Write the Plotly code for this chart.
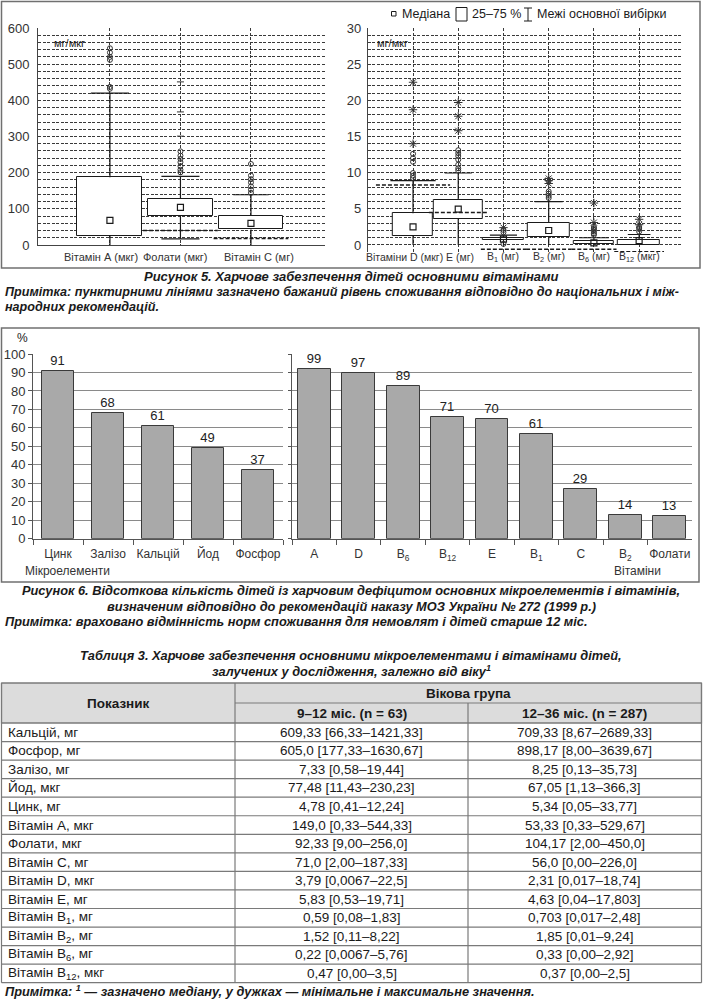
import plotly.graph_objects as go

W, H = 703, 1000


def PX(x):
    return x / W


def PY(y):
    return 1 - y / H


FONT = "Liberation Sans Narrow, Arial Narrow, Liberation Sans, Arial, sans-serif"
INK = "#1a1a1a"
GRIDDOT = "#3a3a3a"
BARGRID = "#8a8a8a"
FRAME = "#707070"

# ---------------- Figure 5 : box plots ----------------
vitL_labels = ["Вітамін А (мкг)", "Фолати (мкг)", "Вітамін С (мг)"]
vitL_q1 = [26, 81, 43]
vitL_med = [68, 104, 60]
vitL_q3 = [187, 128, 80]
vitL_lo = [0, 17, 0]
vitL_hi = [420, 190, 139]
vitL_rec = [None, 40, 18]
vitL_circles = [[432, 437, 512, 520, 532, 544],
                [201, 208, 218, 229, 238, 247, 259],
                [144, 153, 162, 173, 182, 192, 224]]
vitL_stars = [[], [], []]
vitL_dashes = [[], [301, 368, 451], []]

vitR_labels = ["D", "E", "B<sub>1</sub> (мг)", "B<sub>2</sub> (мг)", "B<sub>6</sub> (мг)", "B<sub>12</sub> (мкг)"]
vitR_group_label = "Вітаміни D (мкг) E (мг)"
vitR_q1 = [1.3, 3.6, 0.65, 1.05, 0.1, 0.0]
vitR_med = [2.5, 4.95, 0.8, 2.0, 0.3, 0.6]
vitR_q3 = [4.4, 6.25, 1.0, 3.1, 0.6, 0.7]
vitR_lo = [0, 0, 0, 0, 0, 0]
vitR_hi = [8.9, 9.95, 1.35, 6.0, 1.0, 1.45]
vitR_rec = [8.3, 4.5, -0.6, -0.6, -0.6, -0.92]
vitR_circles = [[9.26, 9.58, 9.95, 11.5, 12.0, 12.6],
                [10.3, 10.6, 11.1, 11.8, 12.3, 12.7, 13.1],
                [0.15, 1.76, 2.08],
                [6.5, 6.8, 7.1, 7.4],
                [1.4, 1.6, 1.85, 2.1, 2.3, 2.5],
                [1.85, 2.2, 2.5]]
vitR_stars = [[14.0, 18.7, 22.5],
              [15.8, 17.8, 19.7],
              [2.4],
              [8.5, 8.9, 9.2],
              [3.1, 5.8],
              [2.8, 3.55]]
vitR_dashes = [[], [], [], [], [], []]

# ---------------- Figure 6 : bars ----------------
micro_cats = ["Цинк", "Залізо", "Кальцій", "Йод", "Фосфор"]
micro_vals = [91, 68, 61, 49, 37]
vit_cats = ["A", "D", "B<sub>6</sub>", "B<sub>12</sub>", "E", "B<sub>1</sub>", "C", "B<sub>2</sub>", "Фолати"]
vit_vals = [99, 97, 89, 71, 70, 61, 29, 14, 13]

# ---------------- Table 3 ----------------
tab_rows = ["Кальцій, мг", "Фосфор, мг", "Залізо, мг", "Йод, мкг", "Цинк, мг", "Вітамін А, мкг",
            "Фолати, мкг", "Вітамін С, мг", "Вітамін D, мкг", "Вітамін Е, мг",
            "Вітамін B<sub>1</sub>, мг", "Вітамін B<sub>2</sub>, мг", "Вітамін B<sub>6</sub>, мг",
            "Вітамін B<sub>12</sub>, мкг"]
tab_young = ["609,33 [66,33–1421,33]", "605,0 [177,33–1630,67]", "7,33 [0,58–19,44]",
             "77,48 [11,43–230,23]", "4,78 [0,41–12,24]", "149,0 [0,33–544,33]",
             "92,33 [9,00–256,0]", "71,0 [2,00–187,33]", "3,79 [0,0067–22,5]",
             "5,83 [0,53–19,71]", "0,59 [0,08–1,83]", "1,52 [0,11–8,22]",
             "0,22 [0,0067–5,76]", "0,47 [0,00–3,5]"]
tab_old = ["709,33 [8,67–2689,33]", "898,17 [8,00–3639,67]", "8,25 [0,13–35,73]",
           "67,05 [1,13–366,3]", "5,34 [0,05–33,77]", "53,33 [0,33–529,67]",
           "104,17 [2,00–450,0]", "56,0 [0,00–226,0]", "2,31 [0,017–18,74]",
           "4,63 [0,04–17,803]", "0,703 [0,017–2,48]", "1,85 [0,01–9,24]",
           "0,33 [0,00–2,92]", "0,37 [0,00–2,5]"]
tab_head = ["Показник", "Вікова група", "9–12 міс. (n = 63)", "12–36 міс. (n = 287)"]

fig = go.Figure()


def box_panel(xa, ya, q1, med, q3, lo, hi, rec, circles, stars, dashes, box_w, cap_w, rec_hw):
    idx = list(range(len(q1)))
    fig.add_trace(go.Bar(x=idx, y=[b - a for a, b in zip(q1, q3)], base=q1, width=box_w,
                         marker=dict(color="white", line=dict(color=INK, width=1)),
                         xaxis=xa, yaxis=ya, showlegend=False, hoverinfo="skip"))
    wx, wy = [], []
    for i in idx:
        wx += [i, i, None, i - cap_w[i] / 2, i + cap_w[i] / 2, None, i, i, None]
        wy += [q3[i], hi[i], None, hi[i], hi[i], None, q1[i], lo[i], None]
        if lo[i] > 0:
            wx += [i - cap_w[i] / 2, i + cap_w[i] / 2, None]
            wy += [lo[i], lo[i], None]
    fig.add_trace(go.Scatter(x=wx, y=wy, mode="lines", line=dict(color=INK, width=1.2),
                             xaxis=xa, yaxis=ya, showlegend=False, hoverinfo="skip"))
    rx, ry = [], []
    for i in idx:
        if rec[i] is not None:
            rx += [i - rec_hw[i], i + rec_hw[i], None]
            ry += [rec[i], rec[i], None]
    fig.add_trace(go.Scatter(x=rx, y=ry, mode="lines", line=dict(color=INK, width=1.5, dash="4px,2px"),
                             xaxis=xa, yaxis=ya, showlegend=False, hoverinfo="skip", cliponaxis=False))
    fig.add_trace(go.Scatter(x=idx, y=med, mode="markers",
                             marker=dict(symbol="square-open", size=6, color=INK, line=dict(width=1.2)),
                             xaxis=xa, yaxis=ya, showlegend=False, hoverinfo="skip"))
    for kind, sym, sz in ((circles, "circle-open", 5), (stars, "asterisk-open", 7), (dashes, "line-ew-open", 5)):
        ox, oy = [], []
        for i in idx:
            for v in kind[i]:
                ox.append(i)
                oy.append(v)
        if ox:
            fig.add_trace(go.Scatter(x=ox, y=oy, mode="markers",
                                     marker=dict(symbol=sym, size=sz, color="#333",
                                                 line=dict(width=1, color="#333")),
                                     xaxis=xa, yaxis=ya, showlegend=False, hoverinfo="skip"))


box_panel("x", "y", vitL_q1, vitL_med, vitL_q3, vitL_lo, vitL_hi, vitL_rec,
          vitL_circles, vitL_stars, vitL_dashes,
          box_w=[0.92, 0.91, 0.9], cap_w=[0.54, 0.54, 0.5], rec_hw=[0.53, 0.53, 0.53])
box_panel("x2", "y2", vitR_q1, vitR_med, vitR_q3, vitR_lo, vitR_hi, vitR_rec,
          vitR_circles, vitR_stars, vitR_dashes,
          box_w=[0.88, 1.08, 0.9, 0.93, 0.9, 0.93], cap_w=[1.0, 0.6, 0.6, 0.62, 0.66, 0.5],
          rec_hw=[0.82, 0.65, 0.5, 0.5, 0.5, 0.55])

# bars of figure 6
bar_style = dict(color="#a9a9a9", line=dict(color="#3a3a3a", width=1))
fig.add_trace(go.Bar(x=micro_cats, y=micro_vals, width=0.64, marker=bar_style,
                     text=micro_vals, textposition="outside", cliponaxis=False,
                     textfont=dict(family=FONT, size=13, color="#222"),
                     xaxis="x3", yaxis="y3", showlegend=False, hoverinfo="skip"))
fig.add_trace(go.Bar(x=vit_cats, y=vit_vals, width=0.74, marker=bar_style,
                     text=vit_vals, textposition="outside", cliponaxis=False,
                     textfont=dict(family=FONT, size=13, color="#222"),
                     xaxis="x4", yaxis="y4", showlegend=False, hoverinfo="skip"))

dotgrid = dict(showgrid=True, gridcolor=GRIDDOT, gridwidth=1, griddash="3px,1.5px")
tickf = dict(family=FONT, size=13, color="#333")

# categories of the right box panel that share one compound label
grp_idx = [0, 1]
lab_idx = [i for i in range(len(vitR_labels)) if i not in grp_idx]

fig.update_layout(
    width=W, height=H, margin=dict(l=0, r=0, t=0, b=0, autoexpand=False),
    paper_bgcolor="white", plot_bgcolor="white",
    font=dict(family=FONT, color=INK),
    barmode="overlay", bargap=0,
    xaxis=dict(domain=[PX(38), PX(325)], range=[-1.02, 3.05], tickmode="array",
               tickvals=list(range(len(vitL_labels))), showticklabels=False, ticks="",
               zeroline=False, showline=True, linecolor="#444", anchor="y", **dotgrid),
    yaxis=dict(domain=[PY(245), PY(28)], range=[0, 600], dtick=100, tick0=0,
               minor=dict(dtick=20, **dotgrid), tickfont=tickf, ticks="", ticklabelstandoff=5,
               zeroline=False, showline=True, linecolor="#444", anchor="x", **dotgrid),
    xaxis2=dict(domain=[PX(367.8), PX(683)], range=[-1.0, 5.97], tickmode="array",
                tickvals=list(range(len(vitR_labels))), showticklabels=False, ticks="",
                zeroline=False, showline=False, anchor="y2", **dotgrid),
    yaxis2=dict(domain=[PY(252), PY(28)], range=[-0.97, 30], dtick=5, tick0=0,
                minor=dict(dtick=1, **dotgrid), tickfont=tickf, ticks="", ticklabelstandoff=3,
                zeroline=False, showline=True, linecolor="#444", anchor="x2", **dotgrid),
    xaxis3=dict(domain=[PX(33), PX(283)], type="category", ticks="outside", tickson="boundaries",
                ticklen=5, tickcolor="#555", showline=True, linecolor="#555", tickangle=0,
                tickfont=dict(family=FONT, size=12, color="#333"), ticklabelstandoff=4,
                showgrid=False, anchor="y3"),
    yaxis3=dict(domain=[PY(538.7), PY(354)], range=[0, 100], dtick=10, tick0=0,
                showgrid=True, gridcolor=BARGRID, gridwidth=1.2, zeroline=False,
                showline=True, linecolor="#555", ticks="outside", ticklen=4, tickcolor="#555",
                tickfont=dict(family=FONT, size=13, color="#333"), anchor="x3"),
    xaxis4=dict(domain=[PX(292), PX(692)], type="category", ticks="outside", tickson="boundaries",
                ticklen=5, tickcolor="#555", showline=True, linecolor="#555", tickangle=0,
                tickfont=dict(family=FONT, size=12, color="#333"), ticklabelstandoff=4,
                showgrid=False, anchor="y4"),
    yaxis4=dict(domain=[PY(538.7), PY(354)], range=[0, 108], dtick=10.8, tick0=0,
                showgrid=True, gridcolor=BARGRID, gridwidth=1.2, zeroline=False,
                showline=True, linecolor="#555", ticks="outside", ticklen=3, tickcolor="#555",
                showticklabels=False, anchor="x4"),
)

shapes = []
annotations = []


def ann(text, x, y, size=13, xanchor="center", bold=False, italic=False, color=INK,
        xref="paper", xshift=0):
    annotations.append(dict(text=text, x=PX(x) if xref == "paper" else x, y=PY(y),
                            xref=xref, yref="paper", xshift=xshift,
                            xanchor=xanchor, yanchor="middle", showarrow=False,
                            font=dict(family=FONT, size=size, color=color,
                                      weight="bold" if bold else "normal",
                                      style="italic" if italic else "normal")))


def rect(x0, y0, x1, y1, color=FRAME, width=1.5, fill=None):
    shapes.append(dict(type="rect", xref="paper", yref="paper", x0=PX(x0), x1=PX(x1),
                       y0=PY(y0), y1=PY(y1), line=dict(color=color, width=width),
                       fillcolor=fill if fill else "rgba(0,0,0,0)", layer="below"))


def hline(x0, x1, y, color="#7a7a7a", width=1.2):
    shapes.append(dict(type="line", xref="paper", yref="paper", x0=PX(x0), x1=PX(x1),
                       y0=PY(y), y1=PY(y), line=dict(color=color, width=width)))


def vline(x, y0, y1, color="#7a7a7a", width=1.2):
    shapes.append(dict(type="line", xref="paper", yref="paper", x0=PX(x), x1=PX(x),
                       y0=PY(y0), y1=PY(y1), line=dict(color=color, width=width)))


# frames
rect(1.5, 1.5, 700, 268)
rect(1.5, 328, 699, 582)

# figure 5 category labels (placed on the category positions of each box axis)
left_label_shift = [-9, -5, 8]
for i, lab in enumerate(vitL_labels):
    ann(lab, i, 257, 11, color="#333", xref="x", xshift=left_label_shift[i])
for i in lab_idx:
    ann(vitR_labels[i], i, 257, 10.5, color="#333", xref="x2")
ann(vitR_group_label, 364, 257, 10.5, xanchor="left", color="#333")
ann("мг/мкг", 52, 43, 11, xanchor="left")
ann("мг/мкг", 375, 43, 11, xanchor="left")
# legend
rect(391.5, 11.5, 396, 16, color=INK, width=1)
ann("Медіана", 400, 14, 12.5, xanchor="left")
rect(456, 7.5, 467, 21, color=INK, width=1)
ann("25–75 %", 470, 14, 12.5, xanchor="left")
vline(528, 8, 21, color=INK, width=1)
hline(524, 532, 8, color=INK, width=1)
hline(524, 532, 21, color=INK, width=1)
ann("Межі основної вибірки", 535, 14, 12.5, xanchor="left")

# captions
cap = dict(bold=True, italic=True)
ann("Рисунок 5. Харчове забезпечення дітей основними вітамінами", 351, 276, 13, **cap)
ann("Примітка: пунктирними лініями зазначено бажаний рівень споживання відповідно до національних і між-",
    3, 292, 12.6, xanchor="left", **cap)
ann("народних рекомендацій.", 3, 307, 12.6, xanchor="left", **cap)

# figure 6 extra texts
ann("%", 23, 338, 12)
ann("Мікроелементи", 67, 571, 12, color="#333")
ann("Вітаміни", 637, 571, 12, color="#333")
ann("Рисунок 6. Відсоткова кількість дітей із харчовим дефіцитом основних мікроелементів і вітамінів,",
    351, 590, 12.8, **cap)
ann("визначеним відповідно до рекомендацій наказу МОЗ України № 272 (1999 р.)", 351, 606, 12.8, **cap)
ann("Примітка: враховано відмінність норм споживання для немовлят і дітей старше 12 міс.",
    3, 621, 12.8, xanchor="left", **cap)

# table
ann("Таблиця 3. Харчове забезпечення основними мікроелементами і вітамінами дітей,", 351, 655, 12.8, **cap)
ann("залучених у дослідження, залежно від віку<sup>1</sup>", 351, 671, 12.8, **cap)

T_TOP, T_MID, T_HB, ROW_H = 683, 703, 723, 18.55
C0, C1, C2, C3 = 1.5, 235, 468, 701.5
T_BOT = T_HB + ROW_H * len(tab_rows)
rect(C0, T_TOP, C3, T_HB, color="#7a7a7a", width=1.2, fill="#dcdcdc")
hline(C0, C3, T_TOP)
hline(C1, C3, T_MID)
for i in range(len(tab_rows) + 1):
    hline(C0, C3, T_HB + ROW_H * i)
vline(C0, T_TOP, T_BOT)
vline(C1, T_TOP, T_BOT)
vline(C2, T_MID, T_BOT)
vline(C3, T_TOP, T_BOT)
ann(tab_head[0], (C0 + C1) / 2, T_MID, 13.5, bold=True)
ann(tab_head[1], (C1 + C3) / 2, (T_TOP + T_MID) / 2, 13.5, bold=True)
ann(tab_head[2], (C1 + C2) / 2, (T_MID + T_HB) / 2, 13.5, bold=True)
ann(tab_head[3], (C2 + C3) / 2, (T_MID + T_HB) / 2, 13.5, bold=True)
for i, (lab, a, b) in enumerate(zip(tab_rows, tab_young, tab_old)):
    yc = T_HB + ROW_H * (i + 0.5)
    ann(lab, C0 + 4, yc, 13.5, xanchor="left")
    ann(a, (C1 + C2) / 2, yc, 13.5)
    ann(b, (C2 + C3) / 2, yc, 13.5)
ann("Примітка: <sup>1</sup> — зазначено медіану, у дужках — мінімальне і максимальне значення.",
    3, 991, 12.8, xanchor="left", **cap)

fig.update_layout(shapes=shapes, annotations=annotations)
fig.write_html("out.html", config={"displayModeBar": False},
               post_script="document.documentElement.style.margin='0';"
                           "document.body.style.margin='0';document.body.style.padding='0';"
                           "document.body.style.overflow='hidden';")
